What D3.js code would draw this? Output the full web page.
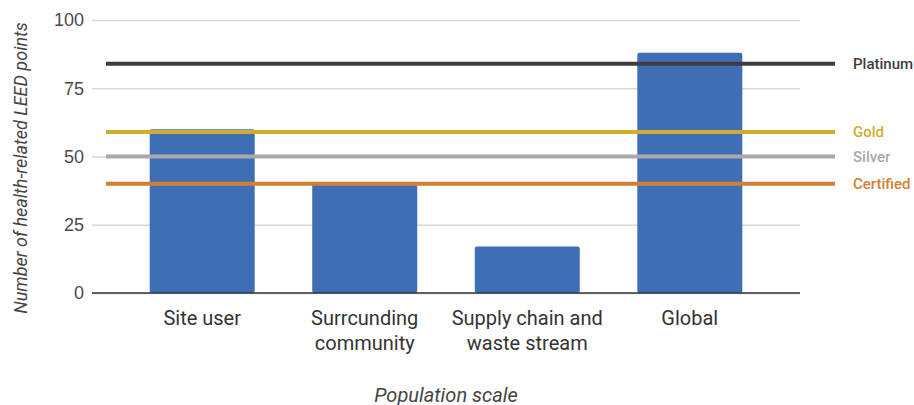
<!DOCTYPE html>
<html>
<head>
<meta charset="utf-8">
<script src="https://cdn.jsdelivr.net/npm/d3@7"></script>
<style>
  body { margin: 0; background: #fff; }
  svg { font-family: Roboto, "Noto Sans", sans-serif; }
</style>
</head>
<body>
<svg id="chart" width="914" height="405"></svg>
<script>
const categories = [["Site user"], ["Surrcunding", "community"], ["Supply chain and", "waste stream"], ["Global"]];
const points = [60, 40, 17, 88];
const levels = ["Platinum", "Gold", "Silver", "Certified"];
const levelValues = [84, 59, 50, 40];
const levelColors = ["#3d3d3d", "#d1ac33", "#a9a9ad", "#d27f33"];
const yTicks = [0, 25, 50, 75, 100];

let svg = d3.select("#chart");

let x = d3.scaleBand()
    .domain(categories.map(function (d) { return d.join(" "); }))
    .range([92, 800])
    .paddingInner(0.354)
    .paddingOuter(0.355);

let y = d3.scaleLinear().domain([0, 100]).range([293, 20]);

// grid + y labels
let yAxis = svg.append("g")
    .attr("transform", "translate(92,0)")
    .call(d3.axisLeft(y).tickValues(yTicks).tickSize(-708).tickPadding(8));
yAxis.select(".domain").remove();
yAxis.selectAll(".tick line").attr("stroke", "#d9d6d3").attr("stroke-width", 1.3);
yAxis.selectAll(".tick text").attr("fill", "#4a4a4a").style("font-size", "18px");

// bars
svg.append("g")
    .selectAll("rect")
    .data(points)
    .enter().append("rect")
    .attr("x", function (d, i) { return x(categories[i].join(" ")); })
    .attr("y", function (d) { return y(d); })
    .attr("width", x.bandwidth())
    .attr("height", function (d) { return y(0) - y(d); })
    .attr("rx", 2)
    .attr("fill", "#3e6eb4");

// baseline
svg.append("line")
    .attr("x1", 92).attr("x2", 800)
    .attr("y1", y(0)).attr("y2", y(0))
    .attr("stroke", "#333").attr("stroke-width", 1.5);

// category labels
let xl = svg.append("g");
categories.forEach(function (lines, i) {
    let cx = x(lines.join(" ")) + x.bandwidth() / 2;
    let t = xl.append("text")
        .attr("x", cx)
        .attr("y", 325)
        .attr("text-anchor", "middle")
        .attr("fill", "#333")
        .style("font-size", "20px");
    lines.forEach(function (s, j) {
        t.append("tspan")
            .attr("x", cx)
            .attr("dy", j === 0 ? 0 : 25)
            .text(s);
    });
});

// LEED level lines
let lv = svg.append("g");
levels.forEach(function (name, i) {
    lv.append("line")
        .attr("x1", 106).attr("x2", 835)
        .attr("y1", y(levelValues[i])).attr("y2", y(levelValues[i]))
        .attr("stroke", levelColors[i])
        .attr("stroke-width", 4);
    lv.append("text")
        .attr("x", 853)
        .attr("y", y(levelValues[i]) + 5)
        .attr("fill", levelColors[i])
        .style("font-size", "15px")
        .style("font-weight", "500")
        .text(name);
});

// axis titles
svg.append("text")
    .attr("x", 446).attr("y", 402)
    .attr("text-anchor", "middle")
    .attr("fill", "#444")
    .style("font-size", "20px")
    .style("font-style", "italic")
    .text("Population scale");

svg.append("text")
    .attr("transform", "translate(27,168) rotate(-90)")
    .attr("text-anchor", "middle")
    .attr("fill", "#444")
    .style("font-size", "18px")
    .style("font-style", "italic")
    .text("Number of health-related LEED points");
</script>
</body>
</html>
